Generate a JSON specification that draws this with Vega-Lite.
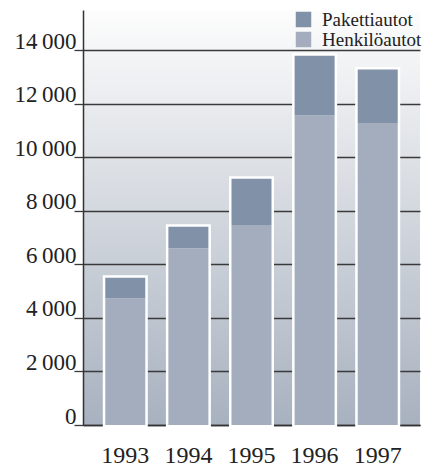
{
  "$schema": "https://vega.github.io/schema/vega-lite/v6.json",
  "width": 337,
  "height": 415,
  "autosize": {"type": "none"},
  "padding": {"left": 83, "top": 10, "right": 18, "bottom": 43},
  "background": "white",
  "view": {
    "stroke": null,
    "fill": {
      "gradient": "linear",
      "x1": 0, "y1": 0, "x2": 0, "y2": 1,
      "stops": [
        {"offset": 0, "color": "#fdfdfd"},
        {"offset": 0.3, "color": "#e3e6ea"},
        {"offset": 1, "color": "#a8b1bf"}
      ]
    }
  },
  "data": {
    "values": [
      {"year": "1993", "type": "Henkilöautot", "value": 4730},
      {"year": "1993", "type": "Pakettiautot", "value": 770},
      {"year": "1994", "type": "Henkilöautot", "value": 6600},
      {"year": "1994", "type": "Pakettiautot", "value": 800},
      {"year": "1995", "type": "Henkilöautot", "value": 7470},
      {"year": "1995", "type": "Pakettiautot", "value": 1730},
      {"year": "1996", "type": "Henkilöautot", "value": 11560},
      {"year": "1996", "type": "Pakettiautot", "value": 2230},
      {"year": "1997", "type": "Henkilöautot", "value": 11280},
      {"year": "1997", "type": "Pakettiautot", "value": 2000}
    ]
  },
  "encoding": {
    "x": {
      "field": "year",
      "type": "ordinal",
      "title": null,
      "scale": {"paddingInner": 0.366, "paddingOuter": 0.353},
      "axis": {
        "labelAngle": 0,
        "ticks": false,
        "grid": false,
        "domain": true,
        "domainColor": "#333333",
        "domainWidth": 1.5,
        "labelFont": "Liberation Serif",
        "labelFontSize": 24,
        "labelColor": "#222222",
        "labelPadding": 18
      }
    }
  },
  "layer": [
    {
      "mark": {"type": "bar", "fill": "white", "stroke": "white", "strokeWidth": 5, "opacity": 1},
      "encoding": {
        "y": {
          "aggregate": "sum",
          "field": "value",
          "type": "quantitative",
          "title": null,
          "scale": {"domain": [0, 15500], "nice": false, "zero": true},
          "axis": {
            "values": [0, 2000, 4000, 6000, 8000, 10000, 12000, 14000],
            "labelExpr": "replace(format(datum.value, ','), ',', '\u2009')",
            "grid": true,
            "gridColor": "#3a3a3a",
            "gridWidth": 1.3,
            "gridOpacity": 1,
            "ticks": true,
            "tickSize": 9,
            "tickColor": "#3a3a3a",
            "tickWidth": 1.3,
            "domain": true,
            "domainColor": "#333333",
            "domainWidth": 1.5,
            "labelFont": "Times New Roman",
            "labelFontSize": 23,
            "labelColor": "#222222",
            "labelPadding": -2,
            "labelBaseline": "alphabetic",
            "labelOffset": -2
          }
        }
      }
    },
    {
      "mark": {"type": "bar", "opacity": 1},
      "encoding": {
        "y": {
          "field": "value",
          "type": "quantitative",
          "stack": "zero",
          "title": null,
          "scale": {"domain": [0, 15500], "nice": false, "zero": true},
          "axis": {
            "values": [0, 2000, 4000, 6000, 8000, 10000, 12000, 14000],
            "labelExpr": "replace(format(datum.value, ','), ',', '\u2009')",
            "grid": true,
            "gridColor": "#3a3a3a",
            "gridWidth": 1.3,
            "gridOpacity": 1,
            "ticks": true,
            "tickSize": 9,
            "tickColor": "#3a3a3a",
            "tickWidth": 1.3,
            "domain": true,
            "domainColor": "#333333",
            "domainWidth": 1.5,
            "labelFont": "Times New Roman",
            "labelFontSize": 23,
            "labelColor": "#222222",
            "labelPadding": -2,
            "labelBaseline": "alphabetic",
            "labelOffset": -2
          }
        },
        "color": {
          "field": "type",
          "type": "nominal",
          "title": null,
          "scale": {
            "domain": ["Pakettiautot", "Henkilöautot"],
            "range": ["#8091a8", "#a3adbd"]
          },
          "legend": {
            "orient": "none",
            "legendX": 211,
            "legendY": 0,
            "padding": 0,
            "symbolType": "square",
            "symbolSize": 240,
            "symbolStrokeWidth": 0,
            "symbolOpacity": 1,
            "labelFont": "Times New Roman",
            "labelFontSize": 19,
            "labelColor": "#222222",
            "labelOffset": 9,
            "rowPadding": 0
          }
        },
        "order": {"field": "type", "type": "ordinal", "sort": "ascending"}
      }
    }
  ]
}
